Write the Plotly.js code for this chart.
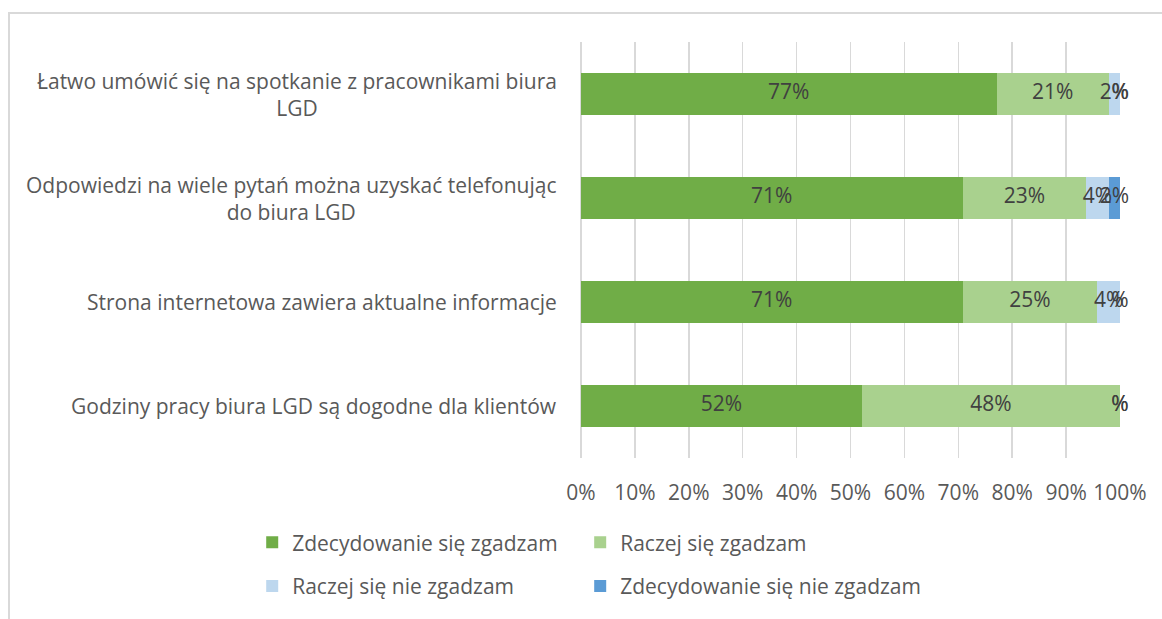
<!DOCTYPE html>
<html>
<head>
<meta charset="utf-8">
<script src="https://cdn.plot.ly/plotly-3.0.1.min.js"></script>
<style>
html,body{margin:0;padding:0;overflow:hidden;background:#fff;}
#chart{position:absolute;left:0;top:0;width:1162px;height:619px;}
#frame{position:absolute;left:8px;top:12px;width:2000px;height:2000px;border-left:2px solid #d9d9d9;border-top:2px solid #d9d9d9;pointer-events:none;}
</style>
</head>
<body>
<div id="chart"></div>
<div id="frame"></div>
<script>
const categories = [
  "Łatwo umówić się na spotkanie z pracownikami biura<br>LGD",
  "Odpowiedzi na wiele pytań można uzyskać telefonując<br>do biura LGD",
  "Strona internetowa zawiera aktualne informacje",
  "Godziny pracy biura LGD są dogodne dla klientów"
];
const seriesNames = ["Zdecydowanie się zgadzam", "Raczej się zgadzam", "Raczej się nie zgadzam", "Zdecydowanie się nie zgadzam"];
const zdecydowanieZgadzam = [77.1, 70.8, 70.8, 52.1];
const raczejZgadzam = [20.8, 22.9, 25.0, 47.9];
const raczejNieZgadzam = [2.1, 4.2, 4.2, 0];
const zdecydowanieNieZgadzam = [0, 2.1, 0, 0];
const tickVals = [0,10,20,30,40,50,60,70,80,90,100];
const tickLabels = ["0%","10%","20%","30%","40%","50%","60%","70%","80%","90%","100%"];

const allSeries = [zdecydowanieZgadzam, raczejZgadzam, raczejNieZgadzam, zdecydowanieNieZgadzam];
const colors = ["#70AD47", "#A9D18E", "#BDD7EE", "#5B9BD5"];
const FONT = "Open Sans, sans-serif";
const FS = 21;
const legendIds = ["legend", "legend2", "legend3", "legend4"];

const traces = [];
allSeries.forEach((vals, i) => {
  traces.push({
    type: "bar", orientation: "h", name: seriesNames[i],
    x: vals, y: categories,
    marker: {color: colors[i]},
    hoverinfo: "x+name",
    legend: legendIds[i]
  });
});
// data labels
const cum = categories.map(() => 0);
allSeries.forEach((vals, i) => {
  const xs = [], txt = [];
  vals.forEach((v, j) => {
    xs.push(cum[j] + v / 2);
    cum[j] += v;
    txt.push(v > 0 ? Math.round(v) + "%" : "%");
  });
  traces.push({
    type: "scatter", mode: "text", x: xs, y: categories, text: txt,
    textposition: "middle center", showlegend: false, hoverinfo: "skip",
    cliponaxis: false,
    textfont: {family: FONT, size: FS, color: "#404040"}
  });
});

const annotations = categories.map(c => ({
  xref: "x", yref: "y", x: 0, y: c, text: c,
  xanchor: "right", yanchor: "middle", align: "center", xshift: -22,
  showarrow: false, font: {family: FONT, size: FS, color: "#595959"}
}));

function legendAt(x, y) {
  return {
    x: x, y: y, orientation: "h", xanchor: "left", yanchor: "middle",
    font: {family: FONT, size: FS, color: "#595959"},
    bgcolor: "rgba(0,0,0,0)", itemclick: false, itemdoubleclick: false
  };
}

const layout = {
  width: 1162, height: 619,
  margin: {l: 581, r: 42, t: 42, b: 157},
  paper_bgcolor: "rgba(0,0,0,0)", plot_bgcolor: "rgba(0,0,0,0)",
  barmode: "stack", bargap: 0.6,
  font: {family: FONT, color: "#595959"},
  xaxis: {
    range: [0, 100], tickvals: tickVals, ticktext: tickLabels,
    showgrid: true, gridcolor: "#d9d9d9", gridwidth: 1.5,
    zeroline: true, zerolinecolor: "#d9d9d9", zerolinewidth: 1.5,
    showline: false, ticks: "", ticklabelstandoff: 20,
    tickfont: {family: FONT, size: FS, color: "#595959"}, fixedrange: true
  },
  yaxis: {
    type: "category", autorange: "reversed", showticklabels: false,
    showgrid: false, zeroline: false, showline: false, ticks: "", fixedrange: true
  },
  legend: legendAt(-0.61, -0.2036),
  legend2: legendAt(-0.0015, -0.2036),
  legend3: legendAt(-0.61, -0.3083),
  legend4: legendAt(-0.0015, -0.3083),
  annotations: annotations,
  showlegend: true
};

Plotly.newPlot("chart", traces, layout, {displayModeBar: false, staticPlot: true});
</script>
</body>
</html>
